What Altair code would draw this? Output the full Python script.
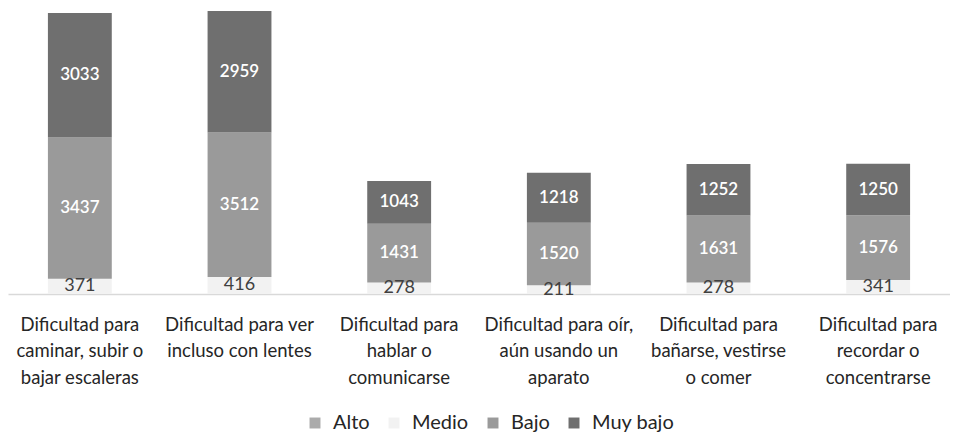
import altair as alt
import pandas as pd

categorias = [
    "Dificultad para\ncaminar, subir o\nbajar escaleras",
    "Dificultad para ver\nincluso con lentes",
    "Dificultad para\nhablar o\ncomunicarse",
    "Dificultad para oír,\naún usando un\naparato",
    "Dificultad para\nbañarse, vestirse\no comer",
    "Dificultad para\nrecordar o\nconcentrarse",
]
series = ["Alto", "Medio", "Bajo", "Muy bajo"]
alto = [0, 0, 0, 0, 0, 0]
medio = [371, 416, 278, 211, 278, 341]
bajo = [3437, 3512, 1431, 1520, 1631, 1576]
muy_bajo = [3033, 2959, 1043, 1218, 1252, 1250]
colores = ["#ababab", "#f2f2f2", "#9a9a9a", "#6f6f6f"]

rows = []
for i, c in enumerate(categorias):
    for k, (s, vals) in enumerate(zip(series, [alto, medio, bajo, muy_bajo])):
        rows.append({"cat": c, "serie": s, "value": vals[i], "orden": k})
df = pd.DataFrame(rows)

base = alt.Chart(df).transform_stack(
    stack="value", groupby=["cat"], as_=["y0", "y1"],
    sort=[alt.SortField("orden", order="ascending")]
).transform_calculate(mid="(datum.y0 + datum.y1) / 2")

xenc = alt.X(
    "cat:N", sort=categorias, title=None,
    scale=alt.Scale(paddingInner=0.6, paddingOuter=0.25),
    axis=alt.Axis(
        labelExpr="split(datum.label, '\\n')", labelAngle=0,
        labelFontSize=18.5, labelLineHeight=26.5, labelPadding=21,
        labelColor="#262626", labelBaseline="top",
        ticks=False, domain=True, domainColor="#d9d9d9", domainWidth=1.5,
        labelFont="Lato",
    ),
)
yscale = alt.Scale(domain=[0, 6960])

bars = base.mark_bar().encode(
    x=xenc,
    y=alt.Y("y0:Q", scale=yscale, axis=None),
    y2="y1:Q",
    color=alt.Color(
        "serie:N", scale=alt.Scale(domain=series, range=colores),
        legend=alt.Legend(
            title=None, orient="none", legendX=297, legendY=405,
            direction="horizontal", symbolType="square", symbolSize=120,
            symbolStrokeWidth=0, labelFontSize=20, labelColor="#262626",
            columnPadding=14, labelOffset=8, labelFont="Lato",
        ),
    ),
)

txt_medio = base.transform_filter(
    "datum.serie == 'Medio' && datum.value > 0"
).mark_text(fontSize=18, color="#404040", font="Lato").encode(
    x=alt.X("cat:N", sort=categorias),
    y=alt.Y("mid:Q", scale=yscale, axis=None),
    text="value:Q",
)

txt_dark = base.transform_filter(
    "(datum.serie == 'Bajo' || datum.serie == 'Muy bajo') && datum.value > 0"
).mark_text(fontSize=17, color="white", font="Lato", fontWeight=600).encode(
    x=alt.X("cat:N", sort=categorias),
    y=alt.Y("mid:Q", scale=yscale, axis=None),
    text="value:Q",
)

chart = alt.layer(bars, txt_medio, txt_dark).properties(
    width=942, height=286, padding=0
).configure(font="Lato").configure_view(stroke=None)

chart.save("out.html", embed_options={"renderer": "svg", "actions": False})
